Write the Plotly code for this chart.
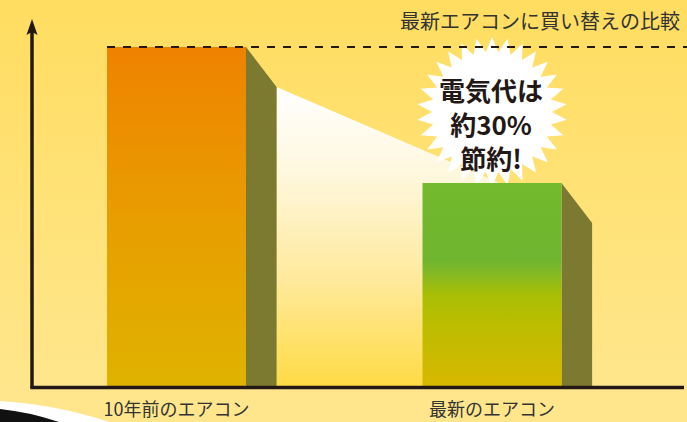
import numpy as np
import plotly.graph_objects as go

# ---- data ----
categories = ["10年前のエアコン", "最新のエアコン"]
values = [100, 60]
title_text = "最新エアコンに買い替えの比較"
burst_lines = ["電気代は", "約30%", "節約!"]

# ---- geometry / style ----
W, H = 687, 422
AXIS_PX = 387          # pixel row of the baseline
TOP_PX = 47            # pixel row of value 100
PX_PER_UNIT = (AXIS_PX - TOP_PX) / 100.0
YMAX = AXIS_PX / PX_PER_UNIT
CAT_PX0, CAT_STEP = 176.5, 315.5
XMIN = -CAT_PX0 / CAT_STEP
XMAX = (W - CAT_PX0) / CAT_STEP
HALF_W = 0.2203
DEPTH = 0.097
DROP = 40 / PX_PER_UNIT

FONT = "Noto Sans CJK JP"
DARK = "#231815"
SIDE = "#7c7a31"


def px2x(px):
    return (px - CAT_PX0) / CAT_STEP


def py2y(py):
    return (AXIS_PX - py) / PX_PER_UNIT


def pxx(px):
    return px / W


def pyy(py):
    return (AXIS_PX - py) / AXIS_PX


fig = go.Figure()

# background gradient
fig.add_trace(go.Scatter(
    x=[XMIN, XMAX, XMAX, XMIN, XMIN], y=[0, 0, YMAX, YMAX, 0],
    mode="lines", line=dict(width=0), fill="toself",
    fillgradient=dict(type="vertical",
                      colorscale=[[0, "#ffe68c"], [0.6, "#ffe172"], [1, "#ffdd60"]]),
    hoverinfo="skip", showlegend=False))

# perspective light band connecting the two bars
xa = 0 + HALF_W + DEPTH
xb = 1 + HALF_W + DEPTH
fig.add_trace(go.Scatter(
    x=[xa, xb, xb, xa, xa], y=[values[0] - DROP, values[1] - DROP, 0, 0, values[0] - DROP],
    mode="lines", line=dict(width=0), fill="toself",
    fillgradient=dict(type="vertical",
                      colorscale=[[0, "#ffdb45"], [0.35, "#ffe99a"], [0.7, "#fff7dc"], [1, "#ffffff"]]),
    hoverinfo="skip", showlegend=False))

# starburst behind the new bar
cx, cy, R, r, n = 492, 112, 75, 60, 30
ang = np.linspace(0, 2 * np.pi, 2 * n + 1) - np.pi / 2
rad = np.where(np.arange(2 * n + 1) % 2 == 0, R, r)
bx = [px2x(cx + rr * np.cos(a)) for a, rr in zip(ang, rad)]
by = [py2y(cy + rr * np.sin(a)) for a, rr in zip(ang, rad)]
fig.add_trace(go.Scatter(x=bx, y=by, mode="lines", line=dict(width=0),
                         fill="toself", fillcolor="#ffffff",
                         hoverinfo="skip", showlegend=False))

bar_scales = [
    [[0, "#dfb300"], [0.5, "#e89d00"], [1, "#ef8200"]],
    [[0, "#d8b800"], [0.3, "#bdbd00"], [0.45, "#a9bf05"], [0.57, "#80b828"],
     [0.62, "#6fb52f"], [1, "#74ba2e"]],
]

for i, v in enumerate(values):
    # side face
    fig.add_trace(go.Scatter(
        x=[i + HALF_W, i + HALF_W, i + HALF_W + DEPTH, i + HALF_W + DEPTH, i + HALF_W],
        y=[0, v, v - DROP, 0, 0],
        mode="lines", line=dict(width=0), fill="toself", fillcolor=SIDE,
        hoverinfo="skip", showlegend=False))
    # front face
    fig.add_trace(go.Scatter(
        x=[i - HALF_W, i + HALF_W, i + HALF_W, i - HALF_W, i - HALF_W],
        y=[0, 0, v, v, 0],
        mode="lines", line=dict(width=0), fill="toself",
        fillgradient=dict(type="vertical", colorscale=bar_scales[i], start=0, stop=v),
        hoverinfo="skip", showlegend=False))

shapes = [
    # dashed reference line at the old value
    dict(type="line", xref="x", yref="y", x0=-HALF_W, x1=XMAX, y0=values[0], y1=values[0],
         line=dict(color=DARK, width=2, dash="8px,8px"), layer="above"),
    # y axis with arrow
    dict(type="line", xref="paper", yref="paper", x0=pxx(32), x1=pxx(32),
         y0=pyy(388.5), y1=pyy(30), line=dict(color=DARK, width=3.5), layer="above"),
    dict(type="path", xref="paper", yref="paper",
         path=f"M {pxx(32)} {pyy(19)} L {pxx(37.5)} {pyy(35)} L {pxx(32)} {pyy(32)} L {pxx(26.5)} {pyy(35)} Z",
         fillcolor=DARK, line=dict(width=0), layer="above"),
    # x axis baseline
    dict(type="line", xref="paper", yref="paper", x0=pxx(30.5), x1=pxx(684),
         y0=pyy(387.5), y1=pyy(387.5), line=dict(color=DARK, width=3.5), layer="above"),
    # decorative corner arcs
    dict(type="path", xref="paper", yref="paper",
         path=f"M {pxx(0)} {pyy(401)} Q {pxx(60)} {pyy(405)} {pxx(112)} {pyy(423)} L {pxx(0)} {pyy(423)} Z",
         fillcolor="#ffffff", line=dict(width=0), layer="above"),
    dict(type="path", xref="paper", yref="paper",
         path=f"M {pxx(0)} {pyy(409)} Q {pxx(30)} {pyy(412)} {pxx(62)} {pyy(423)} L {pxx(0)} {pyy(423)} Z",
         fillcolor="#111111", line=dict(width=0), layer="above"),
]

annotations = [
    dict(text=title_text, xref="paper", yref="paper", x=pxx(682), y=pyy(21),
         xanchor="right", yanchor="middle", showarrow=False,
         font=dict(family=FONT, size=20, color="#333333")),
    dict(text="<b>" + "<br>".join(burst_lines) + "</b>", xref="paper", yref="paper",
         x=pxx(491), y=pyy(123), xanchor="center", yanchor="middle",
         showarrow=False, align="center",
         font=dict(family=FONT, size=26, color=DARK)),
]

fig.update_layout(
    width=W, height=H,
    margin=dict(l=0, r=0, t=0, b=H - AXIS_PX, pad=0),
    paper_bgcolor="#ffe68d", plot_bgcolor="#ffe68d",
    xaxis=dict(range=[XMIN, XMAX], tickvals=[0, 1], ticktext=categories,
               showgrid=False, zeroline=False, showline=False, ticks="",
               ticklabelstandoff=10,
               tickfont=dict(family=FONT, size=18, color="#333333"),
               automargin=False, fixedrange=True),
    yaxis=dict(range=[0, YMAX], visible=False, showgrid=False, zeroline=False,
               automargin=False, fixedrange=True),
    shapes=shapes, annotations=annotations,
    hovermode=False, showlegend=False,
)

fig.write_html("out.html", config={"displayModeBar": False},
               post_script="document.body.style.margin='0px';document.body.style.overflow='hidden';")
